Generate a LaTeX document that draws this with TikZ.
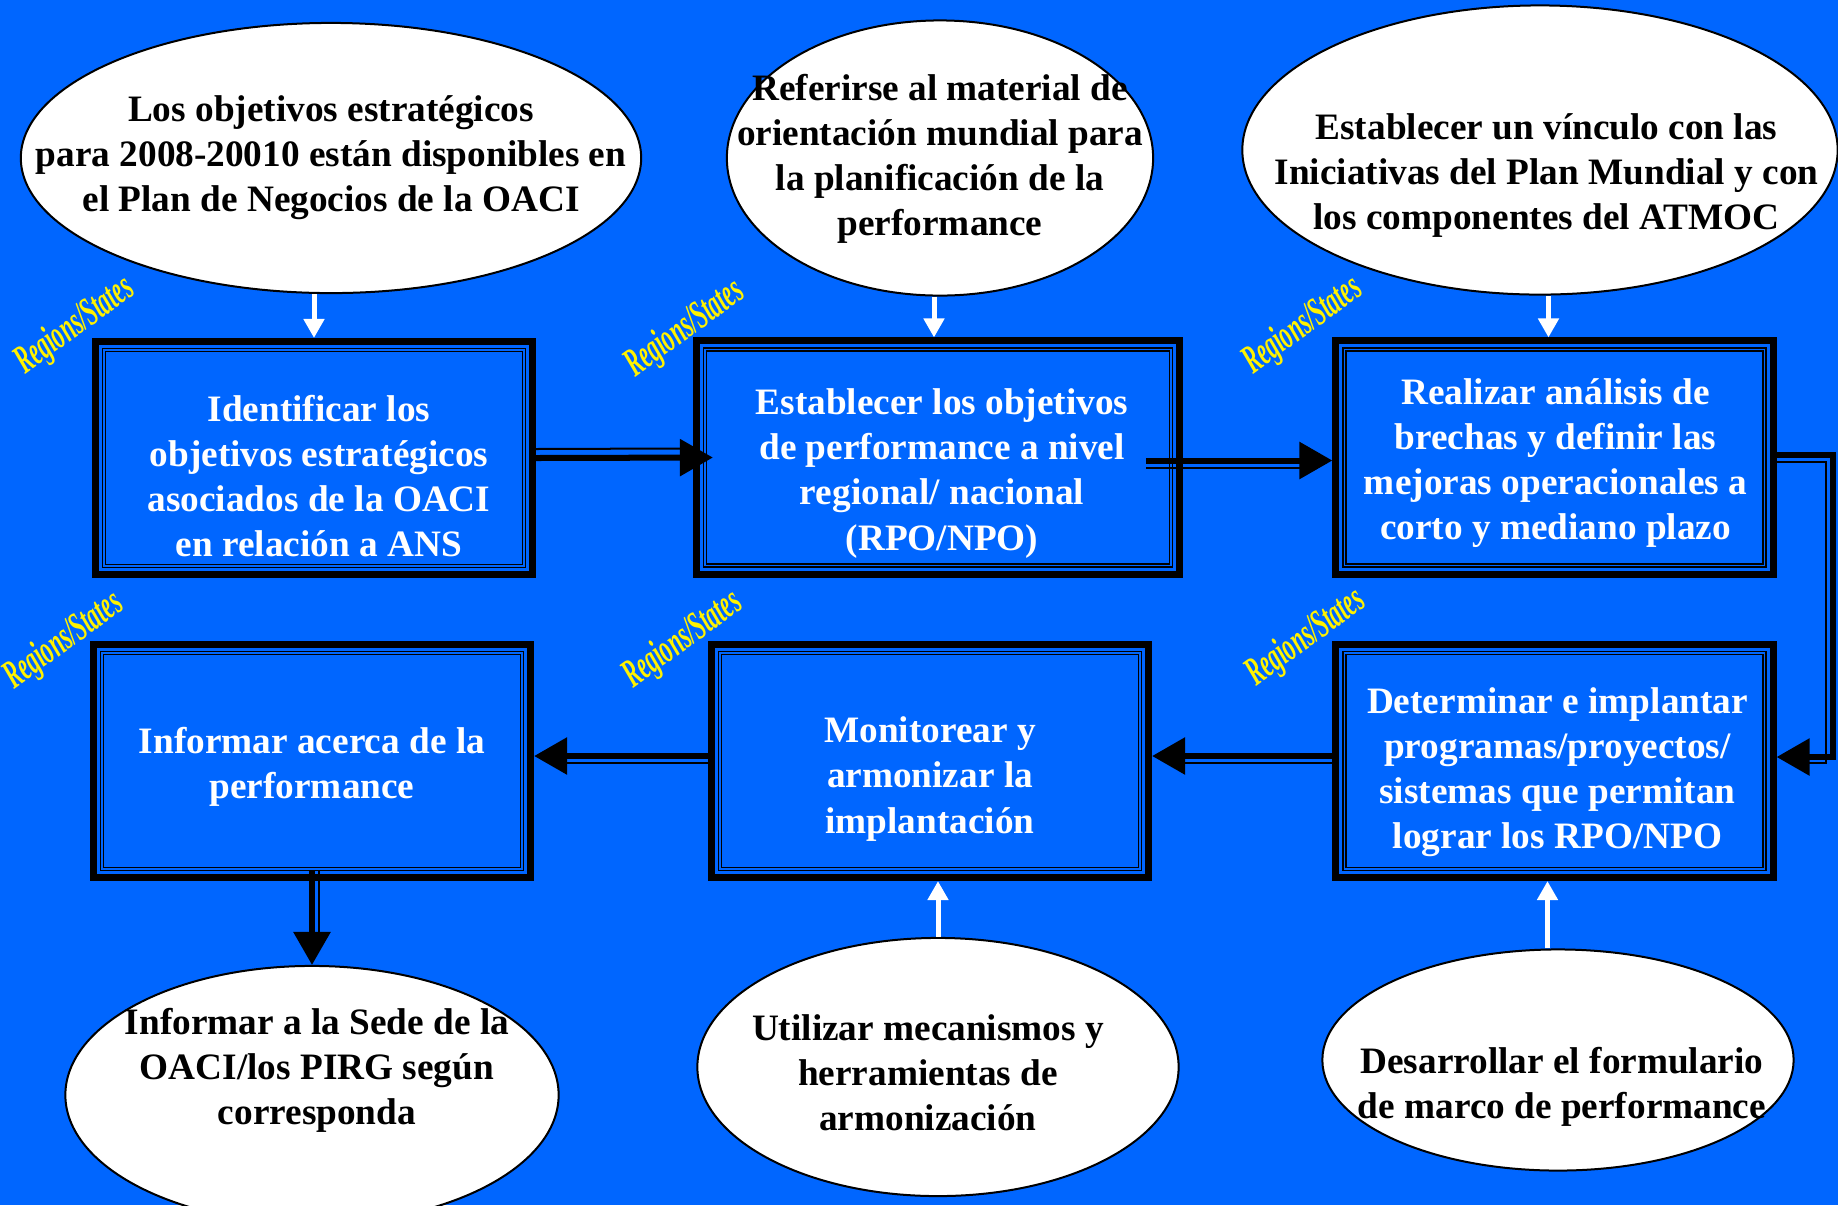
\documentclass[tikz,border=0pt]{standalone}
\usepackage{fontspec}
\setmainfont{Liberation Serif}
\usepackage{graphicx}
\usepackage{tikz}
\usetikzlibrary{arrows.meta,shapes.geometric,calc}
\definecolor{bgblue}{RGB}{0,102,255}
\tikzset{%
  % Specifications for style of nodes:
            box/.style = {rectangle, draw=black, line width=0.07cm, fill=bgblue,
                          minimum width=4.37cm, minimum height=2.33cm},
        boxtext/.style = {align=center, inner sep=0pt, text=white,
                          font=\bfseries\fontsize{10.6}{12.8}\selectfont},
          frame/.style = {draw=black, line width=0.015cm, double=bgblue, double distance=0.015cm},
           oval/.style = {ellipse, draw=black, line width=0.02cm, fill=white, inner sep=0pt},
       ovaltext/.style = {align=center, inner sep=0pt,
                          font=\bfseries\fontsize{10.6}{12.8}\selectfont},
            tag/.style = {rotate=36, inner sep=0pt, text=yellow,
                          font=\bfseries\itshape\fontsize{11.5}{13}\selectfont},
  % Specifications for connectors:
           link/.style = {draw=black, line width=0.06cm, -{Triangle[width=0.36cm,length=0.33cm]}},
           twin/.style = {draw=black, line width=0.02cm},
           feed/.style = {draw=white, line width=0.05cm, -{Triangle[width=0.2cm,length=0.19cm]}}
                           }

\begin{document}
\begin{tikzpicture}[x=0.01cm, y=-0.01cm]
    \fill[bgblue] (0,0) rectangle (1838,1205);
    \useasboundingbox (0,0) rectangle (1838,1205);
    \clip (0,0) rectangle (1838,1205);

    % ovals
    \node[oval, minimum width=6.2cm,  minimum height=2.7cm]  (e1) at (331,158)  {};
    \node[oval, minimum width=4.26cm, minimum height=2.75cm] (e2) at (940,158)  {};
    \node[oval, minimum width=5.95cm, minimum height=2.89cm] (e3) at (1540,150) {};
    \node[oval, minimum width=4.93cm, minimum height=2.58cm] (e4) at (312,1095) {};
    \node[oval, minimum width=4.81cm, minimum height=2.58cm] (e5) at (938,1067) {};
    \node[oval, minimum width=4.71cm, minimum height=2.21cm] (e6) at (1558,1060) {};

    \node[ovaltext] (e1t) at (e1.center) {Los objetivos estratégicos\\para 2008-20010 están disponibles en\\el Plan de Negocios de la OACI};
    \node[ovaltext] (e2t) at ([yshift=-0.01cm]e2.center) {Referirse al material de\\orientación mundial para\\la planificación de la\\performance};
    \node[ovaltext] (e3t) at ([shift={(0.065cm,-0.255cm)}]e3.center) {Establecer un vínculo con las\\Iniciativas del Plan Mundial y con\\los componentes del ATMOC};
    \node[ovaltext] (e4t) at ([shift={(0.05cm,0.25cm)}]e4.center) {Informar a la Sede de la\\OACI/los PIRG según\\corresponda};
    \node[ovaltext] (e5t) at ([shift={(-0.1cm,-0.06cm)}]e5.center) {Utilizar mecanismos y\\herramientas de\\armonización};
    \node[ovaltext] (e6t) at ([shift={(0.04cm,-0.27cm)}]e6.center) {Desarrollar el formulario\\de marco de performance};

    % boxes
    \node[box]                       (b1) at (314,458)      {};
    \node[box, minimum width=4.83cm] (b2) at (938,457.5)    {};
    \node[box]                       (b3) at (1554.5,457.5) {};
    \node[box]                       (b4) at (312,761)      {};
    \node[box]                       (b5) at (930,761)      {};
    \node[box]                       (b6) at (1554.5,761)   {};

    \foreach \b in {b1,b2,b3,b4,b5,b6}
        \draw[frame] ([shift={(0.12cm,-0.12cm)}]\b.north west) rectangle ([shift={(-0.12cm,0.12cm)}]\b.south east);

    \node[boxtext] (b1t) at ([shift={(0.05cm,-0.18cm)}]b1.center) {Identificar los\\objetivos estratégicos\\asociados de la OACI\\en relación a ANS};
    \node[boxtext] (b2t) at ([shift={(0.04cm,-0.16cm)}]b2.center) {Establecer los objetivos\\de performance a nivel\\regional/ nacional\\(RPO/NPO)};
    \node[boxtext] (b3t) at ([shift={(0.01cm,-0.06cm)}]b3.center) {Realizar análisis de\\brechas y definir las\\mejoras operacionales a\\corto y mediano plazo};
    \node[boxtext] (b4t) at ([yshift=-0.06cm]b4.center) {Informar acerca de la\\performance};
    \node[boxtext] (b5t) at ([yshift=-0.18cm]b5.center) {Monitorear y\\armonizar la\\implantación};
    \node[boxtext] (b6t) at ([shift={(0.03cm,-0.11cm)}]b6.center) {Determinar e implantar\\programas/proyectos/\\sistemas que permitan\\lograr los RPO/NPO};

    \foreach \x/\y [count=\i] in {75/326, 685/329, 1303/326, 64/641, 683/640, 1306/638}
        \node[tag] (tag\i) at (\x,\y) {\scalebox{0.56}[1]{Regions/States}};

    % inputs
    \draw[feed] (e1.south -| b1.north) -- (b1.north);
    \draw[feed] ([xshift=-0.04cm]e2.south -| b2.north) -- ([xshift=-0.04cm]b2.north);
    \draw[feed] ([xshift=-0.06cm]e3.south -| b3.north) -- ([xshift=-0.06cm]b3.north);
    \draw[feed] (e5.north) -- (e5.north |- b5.south);
    \draw[feed] ([xshift=-0.07cm]e6.north -| b6.south) -- ([xshift=-0.07cm]b6.south);

    % flow
    \draw[link] (b1.east) -- ([xshift=0.2cm]b2.west);
    \draw[twin] ([yshift=0.09cm]b1.east) -- ([xshift=-0.13cm,yshift=0.09cm]b2.west);
    \draw[link] ([xshift=-0.37cm,yshift=-0.03cm]b2.east) -- ([yshift=-0.03cm]b3.west);
    \draw[twin] ([xshift=-0.37cm,yshift=-0.1cm]b2.east) -- ([xshift=-0.3cm,yshift=-0.1cm]b3.west);
    \draw[link] ([yshift=0.03cm]b3.east) -- ++(0.56cm,0) |- ([yshift=0.04cm]b6.east);
    \draw[twin] ([yshift=-0.04cm]b3.east) -- ++(0.49cm,0) |- ([xshift=0.31cm,yshift=-0.02cm]b6.east);
    \draw[link] ([yshift=0.05cm]b6.west) -- ([yshift=0.05cm]b5.east);
    \draw[twin] ([yshift=-0.02cm]b6.west) -- ([xshift=0.32cm,yshift=-0.02cm]b5.east);
    \draw[link] ([yshift=0.05cm]b5.west) -- ([yshift=0.05cm]b4.east);
    \draw[twin] ([yshift=-0.02cm]b5.west) -- ([xshift=0.32cm,yshift=-0.02cm]b4.east);
    \draw[link] ([yshift=0.11cm]b4.south) -- (e4.north);
    \draw[twin] ([xshift=0.07cm,yshift=0.11cm]b4.south) -- ([xshift=0.07cm,yshift=0.32cm]e4.north);
\end{tikzpicture}
\end{document}
